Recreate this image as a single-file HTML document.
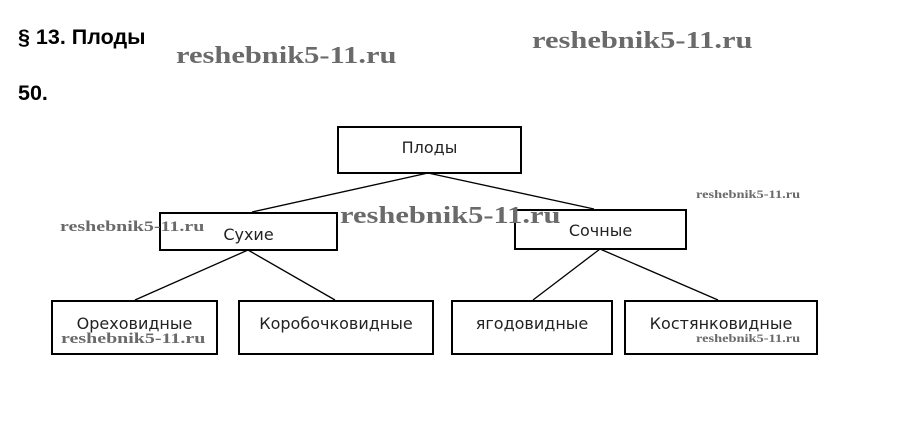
<!DOCTYPE html>
<html><head><meta charset="utf-8"><style>
body{margin:0;width:899px;height:442px;background:#fff;position:relative;overflow:hidden;font-family:"Liberation Sans","DejaVu Sans",sans-serif}
.t{position:absolute;font-weight:bold;font-size:21.5px;color:#000}
.b{position:absolute;border:2px solid #000;box-sizing:border-box;background:#fff;font-size:16px;color:#222;text-align:center;font-family:"DejaVu Sans",sans-serif}
.w{position:absolute;font-family:"Liberation Serif",serif;font-weight:bold;color:#6a6a6a;white-space:nowrap;transform-origin:0 0}
</style></head><body>
<div class="t" style="left:18px;top:25px">§ 13. Плоды</div>
<div class="t" style="left:18px;top:81px">50.</div>
<svg width="899" height="442" style="position:absolute;left:0;top:0">
<g stroke="#000" stroke-width="1.3">
<line x1="428" y1="173" x2="252" y2="212"/><line x1="428" y1="173" x2="594" y2="209"/>
<line x1="248" y1="250" x2="135" y2="300"/><line x1="248" y1="250" x2="335" y2="300"/>
<line x1="600" y1="249" x2="533" y2="300"/><line x1="600" y1="249" x2="718" y2="300"/>
</g></svg>
<div class="b" style="left:337px;top:126px;width:185px;height:48px;line-height:40px">Плоды</div>
<div class="b" style="left:159px;top:212px;width:179px;height:39px;line-height:42px">Сухие</div>
<div class="b" style="left:514px;top:209px;width:173px;height:41px;line-height:40px">Сочные</div>
<div class="b" style="left:51px;top:300px;width:167px;height:55px;line-height:44px">Ореховидные</div>
<div class="b" style="left:238px;top:300px;width:196px;height:55px;line-height:44px">Коробочковидные</div>
<div class="b" style="left:451px;top:300px;width:162px;height:55px;line-height:44px">ягодовидные</div>
<div class="b" style="left:624px;top:300px;width:194px;height:55px;line-height:44px">Костянковидные</div>
<div class="w" style="left:176px;top:43px;font-size:24px;transform:scaleX(1.27)">reshebnik5-11.ru</div>
<div class="w" style="left:532px;top:28px;font-size:24px;transform:scaleX(1.27)">reshebnik5-11.ru</div>
<div class="w" style="left:340px;top:203px;font-size:24px;transform:scaleX(1.27)">reshebnik5-11.ru</div>
<div class="w" style="left:60px;top:219px;font-size:15px;transform:scaleX(1.33)">reshebnik5-11.ru</div>
<div class="w" style="left:61px;top:331px;font-size:15px;transform:scaleX(1.33)">reshebnik5-11.ru</div>
<div class="w" style="left:696px;top:187px;font-size:12px;transform:scaleX(1.2)">reshebnik5-11.ru</div>
<div class="w" style="left:696px;top:331px;font-size:12px;transform:scaleX(1.2)">reshebnik5-11.ru</div>
</body></html>
